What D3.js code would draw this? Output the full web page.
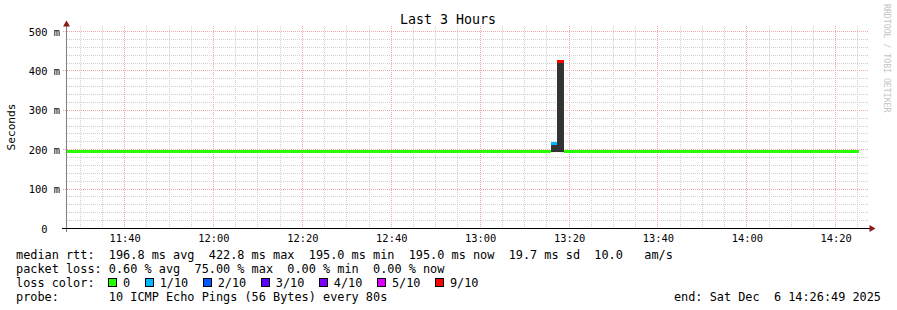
<!DOCTYPE html>
<html>
<head>
<meta charset="utf-8">
<script src="https://cdn.jsdelivr.net/npm/d3@7"></script>
<style>
  body { margin: 0; background: #fff; }
  text { font-family: "DejaVu Sans Mono", monospace; white-space: pre; }
</style>
</head>
<body>
<div id="chart"></div>
<script>
// rrd steps (grouped where the values stay the same)
var stepStart = ["2025-12-06 11:26:49", "2025-12-06 13:15:56", "2025-12-06 13:17:17", "2025-12-06 13:18:52"];
var stepEnd   = ["2025-12-06 13:15:56", "2025-12-06 13:17:17", "2025-12-06 13:18:52", "2025-12-06 14:25:20"];
var medianMs  = [195.0, 214.5, 422.8, 195.0];
var lossPings = [0, 1, 9, 0];
var smokeLoMs = [195.0, 194.0, 194.0, 195.0];
var smokeHiMs = [195.0, 216.0, 424.0, 195.0];

var lossLevels = [0, 1, 2, 3, 4, 5, 9];
var lossLabels = ["0", "1/10", "2/10", "3/10", "4/10", "5/10", "9/10"];
var lossColors = ["#26ff00", "#00b8ff", "#0059ff", "#5e00ff", "#7e00ff", "#dd00ff", "#ff0000"];

var rttLine  = "median rtt:  196.8 ms avg  422.8 ms max  195.0 ms min  195.0 ms now  19.7 ms sd  10.0   am/s";
var lossLine = "packet loss: 0.60 % avg  75.00 % max  0.00 % min  0.00 % now";
var probeLine = "probe:       10 ICMP Echo Pings (56 Bytes) every 80s";
var endLine  = "end: Sat Dec  6 14:26:49 2025";
var title = "Last 3 Hours";
var yTitle = "Seconds";

var W = 897, H = 310;
var parse = d3.timeParse("%Y-%m-%d %H:%M:%S");
var tStart = parse("2025-12-06 11:26:49"), tEnd = parse("2025-12-06 14:26:49");

var x = d3.scaleTime().domain([tStart, tEnd]).range([66, 866]);
var y = d3.scaleLinear().domain([0, 514]).range([228.5, 26]);
var px = function (v) { return Math.floor(v) + 0.5; };

var svg = d3.select("#chart").append("svg")
    .attr("width", W).attr("height", H)
    .style("display", "block");

svg.append("rect").attr("width", W).attr("height", H).attr("fill", "#fff");

// grid
var grid = svg.append("g").attr("shape-rendering", "crispEdges");
var yTicks = y.ticks(26);
var xMinor = d3.timeMinute.every(5).range(tStart, tEnd);

grid.selectAll(".vmin").data(xMinor.filter(function (d) { return d.getMinutes() % 20 != 0; }))
  .enter().append("line")
    .attr("x1", function (d) { return px(x(d)); }).attr("x2", function (d) { return px(x(d)); })
    .attr("y1", 26).attr("y2", 228)
    .attr("stroke", "#cfcfcf").attr("stroke-dasharray", "1,1");
grid.selectAll(".hmin").data(yTicks.filter(function (d) { return d % 100 != 0; }))
  .enter().append("line")
    .attr("x1", 67).attr("x2", 869)
    .attr("y1", function (d) { return px(y(d)); }).attr("y2", function (d) { return px(y(d)); })
    .attr("stroke", "#cfcfcf").attr("stroke-dasharray", "1,1");
grid.selectAll(".vmaj").data(xMinor.filter(function (d) { return d.getMinutes() % 20 == 0; }))
  .enter().append("line")
    .attr("x1", function (d) { return px(x(d)); }).attr("x2", function (d) { return px(x(d)); })
    .attr("y1", 26).attr("y2", 228)
    .attr("stroke", "#f2a8a8").attr("stroke-dasharray", "1,1");
grid.selectAll(".hmaj").data(yTicks.filter(function (d) { return d % 100 == 0 && d > 0; }))
  .enter().append("line")
    .attr("x1", 63).attr("x2", 869)
    .attr("y1", function (d) { return px(y(d)); }).attr("y2", function (d) { return px(y(d)); })
    .attr("stroke", "#f2a8a8").attr("stroke-dasharray", "1,1");

// data
var steps = stepStart.map(function (s, i) {
  return { t0: parse(s), t1: parse(stepEnd[i]), med: medianMs[i], loss: lossPings[i],
           lo: smokeLoMs[i], hi: smokeHiMs[i] };
});

var marks = svg.append("g").attr("shape-rendering", "crispEdges");
marks.selectAll(".smoke").data(steps.filter(function (d) { return d.hi > d.lo; }))
  .enter().append("rect")
    .attr("x", function (d) { return Math.round(x(d.t0)); })
    .attr("width", function (d) { return Math.round(x(d.t1)) - Math.round(x(d.t0)); })
    .attr("y", function (d) { return Math.round(y(d.hi)); })
    .attr("height", function (d) { return Math.round(y(d.lo)) - Math.round(y(d.hi)); })
    .attr("fill", "#333");

marks.selectAll(".median").data(steps)
  .enter().append("rect")
    .attr("x", function (d) { return Math.round(x(d.t0)); })
    .attr("width", function (d) { return Math.round(x(d.t1)) - Math.round(x(d.t0)); })
    .attr("y", function (d) { return Math.floor(y(d.med)) - 1; })
    .attr("height", 3)
    .attr("fill", function (d) { return lossColors[lossLevels.indexOf(d.loss)]; });

// axes lines + arrows
svg.append("line").attr("x1", 66.5).attr("x2", 66.5).attr("y1", 232).attr("y2", 26)
    .attr("stroke", "#808080").attr("shape-rendering", "crispEdges");
svg.append("line").attr("x1", 62).attr("x2", 870).attr("y1", 228.5).attr("y2", 228.5)
    .attr("stroke", "#000").attr("shape-rendering", "crispEdges");
svg.append("path").attr("d", "M66.5,20.5 L63,26.5 L70,26.5 Z").attr("fill", "#8b1a1a");
svg.append("path").attr("d", "M875.5,228.5 L869.5,225 L869.5,232 Z").attr("fill", "#8b1a1a");

// y axis labels
var yAxis = svg.append("g").attr("transform", "translate(66,0)")
  .call(d3.axisLeft(y).tickValues(yTicks.filter(function (d) { return d % 100 == 0; }))
        .tickSize(0).tickPadding(6)
        .tickFormat(function (d) { return d == 0 ? "0" : d + " m"; }));
yAxis.select(".domain").remove();
yAxis.selectAll("text")
    .attr("font-family", "DejaVu Sans Mono").attr("font-size", "10.4px").attr("fill", "#000")
    .attr("dy", "0.35em")
    .attr("dx", function (d) { return d == 0 ? -12.5 : 0; });

// x axis labels
var xAxis = svg.append("g").attr("transform", "translate(0,228)")
  .call(d3.axisBottom(x).tickValues(d3.timeMinute.every(20).range(tStart, tEnd))
        .tickSize(0).tickFormat(d3.timeFormat("%H:%M")));
xAxis.select(".domain").remove();
xAxis.selectAll("text")
    .attr("font-family", "DejaVu Sans Mono").attr("font-size", "10.4px").attr("fill", "#000")
    .attr("y", 14).attr("dy", 0);

// titles
svg.append("text").attr("x", 448).attr("y", 24).attr("text-anchor", "middle")
    .attr("font-size", "13.3px").text(title);
svg.append("text").attr("transform", "translate(15,127) rotate(-90)").attr("text-anchor", "middle")
    .attr("font-size", "11.2px").text(yTitle);
svg.append("text").attr("transform", "translate(884,4) rotate(90)")
    .attr("font-size", "8.2px").attr("fill", "#c4c4c4").text("RRDTOOL / TOBI OETIKER");

// legend
var lg = svg.append("g").attr("font-size", "11.86px");
lg.append("text").attr("x", 16).attr("y", 258.5).text(rttLine);
lg.append("text").attr("x", 16).attr("y", 272.5).text(lossLine);
lg.append("text").attr("x", 16).attr("y", 286.5).text("loss color:");
lg.append("text").attr("x", 16).attr("y", 300.5).text(probeLine);
lg.append("text").attr("x", 881).attr("y", 300.5).attr("text-anchor", "end").text(endLine);

var cw = 7.14, bx = 108;
lossLabels.forEach(function (lab, i) {
  lg.append("rect").attr("x", bx + 0.5).attr("y", 278.5).attr("width", 8).attr("height", 8)
      .attr("fill", lossColors[i]).attr("stroke", "#000").attr("shape-rendering", "crispEdges");
  lg.append("text").attr("x", bx + 15).attr("y", 286.5).text(lab);
  bx += 15 + lab.length * cw + 14.5;
});
</script>
</body>
</html>
